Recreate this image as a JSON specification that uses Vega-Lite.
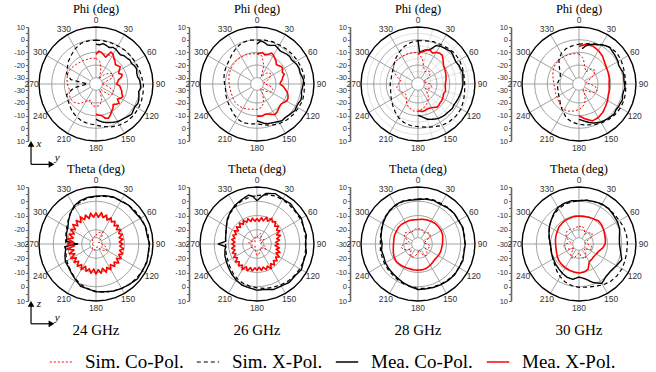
{
"$schema": "https://vega.github.io/schema/vega-lite/v6.json",
"background": "white",
"padding": {"left": 13, "top": 2, "right": 2, "bottom": 0},
"config": {"view": {"stroke": null}, "font": "Liberation Serif",
  "legend": {"orient": "none", "legendX": 21, "legendY": 323, "direction": "horizontal", "title": null, "symbolType": "stroke", "symbolSize": 500, "labelFont": "Liberation Serif", "labelFontSize": 19, "labelColor": "#000", "columnPadding": 10, "labelOffset": 12, "labelLimit": 0}},
"datasets": {
"phi": [
{"f":"24","a":0,"sc":-14.8,"sx":-0.4,"mc":-3.5,"mx":-11.6},
{"f":"24","a":5,"mc":-4,"mx":-8.9},
{"f":"24","a":10,"sc":-17,"sx":-0.4,"mc":-2.6,"mx":-9.8},
{"f":"24","a":15,"mc":-3.5,"mx":-11.2},
{"f":"24","a":20,"sc":-23.8,"sx":-0.4,"mc":-4.4,"mx":-12.5},
{"f":"24","a":25,"mc":-3.1,"mx":-7.1},
{"f":"24","a":30,"sc":-30.5,"sx":-0.4,"mc":-3.5,"mx":-8},
{"f":"24","a":35,"mc":-4.4,"mx":-10.3},
{"f":"24","a":40,"sc":-26,"sx":0.1,"mc":-4.9,"mx":-11.6},
{"f":"24","a":45,"mc":-3.5,"mx":-13.4},
{"f":"24","a":50,"sc":-21.5,"sx":0.1,"mc":-3.1,"mx":-12.5},
{"f":"24","a":55,"mc":-2.2,"mx":-11.6},
{"f":"24","a":60,"sc":-19.3,"sx":0.6,"mc":-2.6,"mx":-13.9},
{"f":"24","a":65,"mc":-1.3,"mx":-15.2},
{"f":"24","a":70,"sc":-21.5,"sx":1,"mc":-0.8,"mx":-13},
{"f":"24","a":75,"mc":-1.7,"mx":-14.3},
{"f":"24","a":80,"sc":-28.3,"sx":1.5,"mc":-1.7,"mx":-17},
{"f":"24","a":85,"mc":-0.4,"mx":-17.9},
{"f":"24","a":90,"sc":-30.5,"sx":2.4,"mc":0.1,"mx":-18.8},
{"f":"24","a":95,"mc":0.6,"mx":-16.1},
{"f":"24","a":100,"sc":-26,"sx":2.8,"mc":-0.8,"mx":-15.2},
{"f":"24","a":105,"mc":0.1,"mx":-13.9},
{"f":"24","a":110,"sc":-20.6,"sx":3.3,"mc":1,"mx":-13.4},
{"f":"24","a":115,"mc":1.5,"mx":-11.6},
{"f":"24","a":120,"sc":-19.3,"sx":3.7,"mc":0.6,"mx":-12.5},
{"f":"24","a":125,"mc":1,"mx":-14.3},
{"f":"24","a":130,"sc":-22.4,"sx":3.7,"mc":1.9,"mx":-11.2},
{"f":"24","a":135,"mc":1,"mx":-12.5},
{"f":"24","a":140,"sc":-29.6,"sx":3.3,"mc":0.1,"mx":-13.9},
{"f":"24","a":145,"mc":-0.4,"mx":-11.6},
{"f":"24","a":150,"sc":-28.3,"sx":2.4,"mc":-0.8,"mx":-10.3},
{"f":"24","a":155,"mc":-1.7,"mx":-8},
{"f":"24","a":160,"sc":-21.5,"sx":1,"mc":-2.6,"mx":-6.2},
{"f":"24","a":165,"mc":-3.5,"mx":-7.1},
{"f":"24","a":170,"sc":-17.9,"sx":-0.8,"mc":-4.4,"mx":-9.8},
{"f":"24","a":175,"mc":-5.8,"mx":-10.3},
{"f":"24","a":180,"sc":-17,"sx":-2.6,"mc":-7.1,"mx":-11.2},
{"f":"24","a":190,"sc":-17.9,"sx":-3.1},
{"f":"24","a":200,"sc":-21.5,"sx":-3.5},
{"f":"24","a":210,"sc":-19.3,"sx":-4.9},
{"f":"24","a":220,"sc":-14.8,"sx":-6.2},
{"f":"24","a":230,"sc":-12.5,"sx":-8},
{"f":"24","a":240,"sc":-11.6,"sx":-9.4},
{"f":"24","a":250,"sc":-12.5,"sx":-10.3},
{"f":"24","a":260,"sc":-13.4,"sx":-17},
{"f":"24","a":270,"sc":-12.5,"sx":-28.3},
{"f":"24","a":280,"sc":-11.6,"sx":-14.8},
{"f":"24","a":290,"sc":-11.2,"sx":-10.3},
{"f":"24","a":300,"sc":-11.6,"sx":-8.9},
{"f":"24","a":310,"sc":-12.5,"sx":-6.7},
{"f":"24","a":320,"sc":-13.4,"sx":-4.9},
{"f":"24","a":330,"sc":-13.9,"sx":-2.6},
{"f":"24","a":340,"sc":-14.3,"sx":-0.8},
{"f":"24","a":350,"sc":-14.3,"sx":-0.4},
{"f":"24","a":360,"sc":-14.8,"sx":-0.4},
{"f":"26","a":0,"sc":-11.2,"sx":-0.4,"mc":-3.5,"mx":-11.2},
{"f":"26","a":5,"mc":-0.8,"mx":-10.7},
{"f":"26","a":10,"sc":-12.5,"sx":0.1,"mc":-1.7,"mx":-9.8},
{"f":"26","a":15,"mc":-3.1,"mx":-11.2},
{"f":"26","a":20,"sc":-19.3,"sx":0.6,"mc":-2.6,"mx":-10.3},
{"f":"26","a":25,"mc":-1.3,"mx":-8},
{"f":"26","a":30,"sc":-28.3,"sx":0.6,"mc":-2.2,"mx":-8.9},
{"f":"26","a":35,"mc":-3.1,"mx":-10.3},
{"f":"26","a":40,"sc":-23.8,"sx":1,"mc":-2.6,"mx":-11.6},
{"f":"26","a":45,"mc":-1.7,"mx":-13.4},
{"f":"26","a":50,"sc":-21.5,"sx":1.5,"mc":-1.3,"mx":-12.5},
{"f":"26","a":55,"mc":-1.7,"mx":-11.2},
{"f":"26","a":60,"sc":-22.4,"sx":1.9,"mc":-0.8,"mx":-11.6},
{"f":"26","a":65,"mc":0.1,"mx":-13},
{"f":"26","a":70,"sc":-26,"sx":2.4,"mc":0.6,"mx":-12.1},
{"f":"26","a":75,"mc":0.1,"mx":-13.9},
{"f":"26","a":80,"sc":-29.6,"sx":2.8,"mc":1,"mx":-14.8},
{"f":"26","a":85,"mc":1.9,"mx":-16.1},
{"f":"26","a":90,"sc":-28.3,"sx":2.4,"mc":1.5,"mx":-17},
{"f":"26","a":95,"mc":1,"mx":-14.3},
{"f":"26","a":100,"sc":-23.8,"sx":2.8,"mc":0.6,"mx":-12.5},
{"f":"26","a":105,"mc":1.5,"mx":-10.3},
{"f":"26","a":110,"sc":-21.5,"sx":3.3,"mc":1.9,"mx":-8.9},
{"f":"26","a":115,"mc":1,"mx":-8},
{"f":"26","a":120,"sc":-22.4,"sx":2.8,"mc":1,"mx":-8},
{"f":"26","a":125,"mc":1.5,"mx":-9.4},
{"f":"26","a":130,"sc":-26,"sx":2.4,"mc":0.6,"mx":-10.3},
{"f":"26","a":135,"mc":0.1,"mx":-9.8},
{"f":"26","a":140,"sc":-30.5,"sx":1.9,"mc":-0.4,"mx":-8.9},
{"f":"26","a":145,"mc":0.1,"mx":-7.6},
{"f":"26","a":150,"sc":-26,"sx":1,"mc":-0.8,"mx":-7.1},
{"f":"26","a":155,"mc":-1.7,"mx":-8.5},
{"f":"26","a":160,"sc":-19.3,"sx":-0.4,"mc":-2.2,"mx":-9.8},
{"f":"26","a":165,"mc":-2.6,"mx":-10.3},
{"f":"26","a":170,"sc":-16.1,"sx":-2.2,"mc":-3.5,"mx":-9.4},
{"f":"26","a":175,"mc":-4.9,"mx":-9.4},
{"f":"26","a":180,"sc":-14.8,"sx":-3.5,"mc":-5.8,"mx":-9.8},
{"f":"26","a":190,"sc":-14.8,"sx":-3.1},
{"f":"26","a":200,"sc":-13.9,"sx":-2.6},
{"f":"26","a":210,"sc":-13,"sx":-3.5},
{"f":"26","a":220,"sc":-12.5,"sx":-5.3},
{"f":"26","a":230,"sc":-12.5,"sx":-7.1},
{"f":"26","a":240,"sc":-13,"sx":-8},
{"f":"26","a":250,"sc":-13.4,"sx":-8.9},
{"f":"26","a":260,"sc":-13.4,"sx":-9.8},
{"f":"26","a":270,"sc":-13,"sx":-9.4},
{"f":"26","a":280,"sc":-12.5,"sx":-8.5},
{"f":"26","a":290,"sc":-11.6,"sx":-7.6},
{"f":"26","a":300,"sc":-11.2,"sx":-7.1},
{"f":"26","a":310,"sc":-10.7,"sx":-6.2},
{"f":"26","a":320,"sc":-10.3,"sx":-4.4},
{"f":"26","a":330,"sc":-10.3,"sx":-2.2},
{"f":"26","a":340,"sc":-10.3,"sx":-0.4},
{"f":"26","a":350,"sc":-10.7,"sx":0.1},
{"f":"26","a":360,"sc":-11.2,"sx":-0.4},
{"f":"28","a":0,"sc":-10.3,"sx":-0.8,"mc":-0.8,"mx":-11.6},
{"f":"28","a":3,"mc":-9.8},
{"f":"28","a":5,"mc":-9.4,"mx":-9.8},
{"f":"28","a":10,"sc":-14.8,"sx":-0.4,"mc":-8,"mx":-8.9},
{"f":"28","a":15,"mc":-7.1,"mx":-7.1},
{"f":"28","a":20,"sc":-21.5,"sx":0.6,"mc":-5.8,"mx":-6.7},
{"f":"28","a":25,"mc":-1.7,"mx":-8},
{"f":"28","a":30,"sc":-23.8,"sx":1,"mc":-0.4,"mx":-6.2},
{"f":"28","a":35,"mc":0.1,"mx":-5.3},
{"f":"28","a":40,"sc":-21.5,"sx":1.9,"mc":0.6,"mx":-5.3},
{"f":"28","a":45,"mc":1.5,"mx":-7.1},
{"f":"28","a":50,"sc":-22.4,"sx":2.8,"mc":1,"mx":-8.9},
{"f":"28","a":55,"mc":0.1,"mx":-10.3},
{"f":"28","a":60,"sc":-26,"sx":2.8,"mc":-0.4,"mx":-10.7},
{"f":"28","a":65,"mc":0.6,"mx":-11.2},
{"f":"28","a":70,"sc":-30.5,"sx":2.4,"mc":0.6,"mx":-11.6},
{"f":"28","a":75,"mc":1.5,"mx":-12.1},
{"f":"28","a":80,"sc":-28.3,"sx":1.9,"mc":1,"mx":-12.5},
{"f":"28","a":85,"mc":0.6,"mx":-13},
{"f":"28","a":90,"sc":-25.1,"sx":1.9,"mc":0.6,"mx":-13.4},
{"f":"28","a":95,"mc":0.1,"mx":-13.4},
{"f":"28","a":100,"sc":-23.8,"sx":2.4,"mc":-0.4,"mx":-13},
{"f":"28","a":105,"mc":-0.8,"mx":-12.5},
{"f":"28","a":110,"sc":-25.1,"sx":3.3,"mc":-1.3,"mx":-13.4},
{"f":"28","a":115,"mc":-1.7,"mx":-13},
{"f":"28","a":120,"sc":-28.3,"sx":4.2,"mc":-2.2,"mx":-12.5},
{"f":"28","a":125,"mc":-1.7,"mx":-12.1},
{"f":"28","a":130,"sc":-26,"sx":4.2,"mc":-2.2,"mx":-12.1},
{"f":"28","a":135,"mc":-2.6,"mx":-11.6},
{"f":"28","a":140,"sc":-22.4,"sx":3.7,"mc":-2.6,"mx":-11.2},
{"f":"28","a":145,"mc":-3.1,"mx":-12.5},
{"f":"28","a":150,"sc":-19.3,"sx":2.8,"mc":-3.5,"mx":-13.4},
{"f":"28","a":155,"mc":-4.4,"mx":-13.9},
{"f":"28","a":160,"sc":-17,"sx":1,"mc":-5.3,"mx":-13.9},
{"f":"28","a":165,"mc":-6.2,"mx":-13.4},
{"f":"28","a":170,"sc":-14.8,"sx":-0.4,"mc":-8,"mx":-13},
{"f":"28","a":175,"mc":-9.4,"mx":-13.4},
{"f":"28","a":180,"sc":-13.4,"sx":-1.3,"mc":-10.3,"mx":-13.9},
{"f":"28","a":190,"sc":-13.4,"sx":-1.7},
{"f":"28","a":200,"sc":-14.8,"sx":-2.6},
{"f":"28","a":210,"sc":-17,"sx":-4.4},
{"f":"28","a":220,"sc":-20.6,"sx":-6.7},
{"f":"28","a":230,"sc":-22.4,"sx":-8.9},
{"f":"28","a":240,"sc":-21.5,"sx":-10.7},
{"f":"28","a":250,"sc":-19.3,"sx":-12.1},
{"f":"28","a":260,"sc":-17.9,"sx":-13},
{"f":"28","a":270,"sc":-19.3,"sx":-13},
{"f":"28","a":280,"sc":-21.5,"sx":-13.4},
{"f":"28","a":290,"sc":-17,"sx":-13},
{"f":"28","a":300,"sc":-12.5,"sx":-12.1},
{"f":"28","a":310,"sc":-10.3,"sx":-10.3},
{"f":"28","a":320,"sc":-9.8,"sx":-8},
{"f":"28","a":330,"sc":-9.8,"sx":-5.8},
{"f":"28","a":340,"sc":-9.8,"sx":-3.5},
{"f":"28","a":350,"sc":-9.8,"sx":-1.7},
{"f":"28","a":360,"sc":-10.3,"sx":-0.8},
{"f":"30","a":0,"sc":-11.2,"sx":-3.5,"mx":-5.3},
{"f":"30","a":5,"mc":-7.1},
{"f":"30","a":10,"sc":-14.8,"sx":-2.6,"mc":-4.4,"mx":-3.1},
{"f":"30","a":15,"mc":-2.6},
{"f":"30","a":20,"sc":-21.5,"sx":-1.3,"mc":-1.7,"mx":-3.1},
{"f":"30","a":25,"mc":-0.8},
{"f":"30","a":30,"sc":-23.8,"sx":1,"mc":0.6,"mx":-4.4},
{"f":"30","a":35,"mc":1.9},
{"f":"30","a":40,"sc":-19.3,"sx":2.8,"mc":2.8,"mx":-6.2},
{"f":"30","a":45,"mc":1.9},
{"f":"30","a":50,"sc":-18.4,"sx":3.7,"mc":1.5,"mx":-8.5},
{"f":"30","a":55,"mc":1},
{"f":"30","a":60,"sc":-21.5,"sx":3.3,"mc":0.6,"mx":-9.8},
{"f":"30","a":65,"mc":-0.4},
{"f":"30","a":70,"sc":-26.9,"sx":2.4,"mc":0.1,"mx":-10.3},
{"f":"30","a":75,"mc":1},
{"f":"30","a":80,"sc":-29.6,"sx":1.9,"mc":1,"mx":-10.7},
{"f":"30","a":85,"mc":0.6},
{"f":"30","a":90,"sc":-26,"sx":1.9,"mc":1,"mx":-11.2},
{"f":"30","a":95,"mc":1.5},
{"f":"30","a":100,"sc":-21.5,"sx":2.4,"mc":0.6,"mx":-10.7},
{"f":"30","a":105,"mc":0.6},
{"f":"30","a":110,"sc":-19.7,"sx":2.8,"mc":1.5,"mx":-10.3},
{"f":"30","a":115,"mc":1},
{"f":"30","a":120,"sc":-21.5,"sx":2.8,"mc":1,"mx":-8.9},
{"f":"30","a":125,"mc":0.6},
{"f":"30","a":130,"sc":-26,"sx":2.4,"mc":1.5,"mx":-7.6},
{"f":"30","a":135,"mc":1},
{"f":"30","a":140,"sc":-29.6,"sx":1.5,"mc":0.6,"mx":-5.8},
{"f":"30","a":145,"mc":0.1},
{"f":"30","a":150,"sc":-26,"sx":0.6,"mc":-0.4,"mx":-4.4},
{"f":"30","a":155,"mc":-1.3},
{"f":"30","a":160,"sc":-20.6,"sx":-0.8,"mc":-2.2,"mx":-4},
{"f":"30","a":165,"mc":-3.5},
{"f":"30","a":170,"sc":-17,"sx":-2.2,"mc":-4.9,"mx":-7.1},
{"f":"30","a":175,"mc":-6.2},
{"f":"30","a":180,"sc":-14.8,"sx":-3.1,"mc":-7.1,"mx":-9.8},
{"f":"30","a":190,"sc":-13.4,"sx":-4.4},
{"f":"30","a":200,"sc":-12.1,"sx":-6.2},
{"f":"30","a":210,"sc":-11.6,"sx":-9.8},
{"f":"30","a":220,"sc":-12.5,"sx":-12.5},
{"f":"30","a":230,"sc":-13.9,"sx":-15.2},
{"f":"30","a":240,"sc":-14.8,"sx":-16.6},
{"f":"30","a":250,"sc":-15.2,"sx":-17.5},
{"f":"30","a":260,"sc":-15.7,"sx":-17.9},
{"f":"30","a":270,"sc":-15.2,"sx":-17.9},
{"f":"30","a":280,"sc":-14.3,"sx":-18.8},
{"f":"30","a":290,"sc":-13,"sx":-19.3},
{"f":"30","a":300,"sc":-11.6,"sx":-17.9},
{"f":"30","a":310,"sc":-10.7,"sx":-14.8},
{"f":"30","a":320,"sc":-10.3,"sx":-10.3},
{"f":"30","a":330,"sc":-10.3,"sx":-7.1},
{"f":"30","a":340,"sc":-10.3,"sx":-5.3},
{"f":"30","a":350,"sc":-10.7,"sx":-4.4},
{"f":"30","a":360,"sc":-11.2,"sx":-3.5}
],
"theta": [
{"f":"24","a":0,"sc":-24,"sx":3.2,"mc":3.6,"mx":-8},
{"f":"24","a":5,"mx":-11.2},
{"f":"24","a":10,"sc":-22,"sx":4,"mc":4.4,"mx":-7.6},
{"f":"24","a":15,"mx":-10.8},
{"f":"24","a":20,"sc":-21.2,"sx":4.8,"mc":5.2,"mx":-8.4},
{"f":"24","a":25,"mx":-11.6},
{"f":"24","a":30,"sc":-20,"sx":5.2,"mc":4.8,"mx":-8.8},
{"f":"24","a":35,"mx":-11.2},
{"f":"24","a":40,"sc":-24,"sx":5.6,"mc":5.6,"mx":-9.2},
{"f":"24","a":45,"mx":-12},
{"f":"24","a":50,"sc":-26.8,"sx":6,"mc":5.2,"mx":-9.6},
{"f":"24","a":55,"mx":-12.4},
{"f":"24","a":60,"sc":-28,"sx":6.4,"mc":6,"mx":-10},
{"f":"24","a":65,"mx":-12.4},
{"f":"24","a":70,"sc":-26.8,"sx":6.8,"mc":6.8,"mx":-10.4},
{"f":"24","a":75,"mx":-13.2},
{"f":"24","a":80,"sc":-26,"sx":7.2,"mc":6.4,"mx":-10.8},
{"f":"24","a":85,"mx":-13.6},
{"f":"24","a":90,"sc":-26,"sx":7.2,"mc":7.6,"mx":-11.2},
{"f":"24","a":95,"mx":-13.2},
{"f":"24","a":100,"sc":-24,"sx":7.6,"mc":7.2,"mx":-10.4},
{"f":"24","a":105,"mx":-12.8},
{"f":"24","a":110,"sc":-22,"sx":7.6,"mc":8,"mx":-10},
{"f":"24","a":115,"mx":-12.4},
{"f":"24","a":120,"sc":-21.2,"sx":7.6,"mc":7.6,"mx":-9.6},
{"f":"24","a":125,"mx":-12.4},
{"f":"24","a":130,"sc":-22.8,"sx":7.2,"mc":8,"mx":-9.2},
{"f":"24","a":135,"mx":-12},
{"f":"24","a":140,"sc":-25.2,"sx":6.8,"mc":6.8,"mx":-9.6},
{"f":"24","a":145,"mx":-12.4},
{"f":"24","a":150,"sc":-26.8,"sx":6,"mc":6,"mx":-9.2},
{"f":"24","a":155,"mx":-12},
{"f":"24","a":160,"sc":-28,"sx":5.2,"mc":5.2,"mx":-8.8},
{"f":"24","a":165,"mx":-12.4},
{"f":"24","a":170,"sc":-26.8,"sx":4.4,"mc":4,"mx":-9.2},
{"f":"24","a":175,"mx":-12},
{"f":"24","a":180,"sc":-26.8,"sx":3.2,"mc":3.6,"mx":-8.8},
{"f":"24","a":185,"mx":-12.4},
{"f":"24","a":190,"sc":-26,"sx":2,"mc":2,"mx":-9.2},
{"f":"24","a":195,"mx":-12},
{"f":"24","a":200,"sc":-25.2,"sx":0.4,"mc":1.6,"mx":-9.6},
{"f":"24","a":205,"mx":-12.8},
{"f":"24","a":210,"sc":-25.2,"sx":-1.6,"mc":-1.2,"mx":-9.2},
{"f":"24","a":215,"mx":-12.4},
{"f":"24","a":220,"sc":-26,"sx":-3.6,"mc":-3.2,"mx":-9.6},
{"f":"24","a":225,"mx":-12.8},
{"f":"24","a":230,"sc":-26.8,"sx":-5.2,"mc":-4.8,"mx":-10},
{"f":"24","a":235,"mx":-13.2},
{"f":"24","a":240,"sc":-28,"sx":-6.4,"mc":-5.2,"mx":-9.6},
{"f":"24","a":245,"mx":-13.6},
{"f":"24","a":250,"sc":-28,"sx":-7.6,"mc":-6.8,"mx":-10},
{"f":"24","a":255,"mx":-14},
{"f":"24","a":260,"sc":-26.8,"sx":-8.4,"mc":-8.4,"mx":-9.2},
{"f":"24","a":265,"mc":-8,"mx":-14.8},
{"f":"24","a":270,"sc":-26.8,"sx":-8.8,"mc":-17.2,"mx":-10},
{"f":"24","a":275,"mc":-9.2,"mx":-14},
{"f":"24","a":280,"sc":-27.6,"sx":-8.4,"mc":-9.2,"mx":-9.6},
{"f":"24","a":285,"mx":-13.6},
{"f":"24","a":290,"sc":-28,"sx":-7.6,"mc":-8,"mx":-10},
{"f":"24","a":295,"mx":-13.2},
{"f":"24","a":300,"sc":-28,"sx":-6.4,"mc":-7.2,"mx":-9.6},
{"f":"24","a":305,"mx":-12.4},
{"f":"24","a":310,"sc":-26.8,"sx":-4.4,"mc":-4.8,"mx":-8.8},
{"f":"24","a":315,"mx":-12},
{"f":"24","a":320,"sc":-26,"sx":-2,"mc":-2,"mx":-8.4},
{"f":"24","a":325,"mx":-11.6},
{"f":"24","a":330,"sc":-26,"sx":0,"mc":0.8,"mx":-8},
{"f":"24","a":335,"mx":-11.2},
{"f":"24","a":340,"sc":-25.2,"sx":1.6,"mc":2.4,"mx":-8.4},
{"f":"24","a":345,"mx":-11.6},
{"f":"24","a":350,"sc":-24.4,"sx":2.8,"mc":3.2,"mx":-8},
{"f":"24","a":355,"mx":-11.2},
{"f":"24","a":360,"sc":-24,"sx":3.2,"mc":3.6,"mx":-8},
{"f":"26","a":0,"sc":-25.2,"sx":4,"mc":0.4,"mx":-12},
{"f":"26","a":5,"mc":3.2,"mx":-14},
{"f":"26","a":10,"sc":-23.6,"sx":5.2,"mc":6,"mx":-11.2},
{"f":"26","a":15,"mx":-13.2},
{"f":"26","a":20,"sc":-22,"sx":6,"mc":7.6,"mx":-10},
{"f":"26","a":25,"mx":-12.4},
{"f":"26","a":30,"sc":-24.4,"sx":6,"mc":6.4,"mx":-9.2},
{"f":"26","a":35,"mx":-11.2},
{"f":"26","a":40,"sc":-26.8,"sx":5.6,"mc":6.8,"mx":-9.6},
{"f":"26","a":45,"mx":-12.4},
{"f":"26","a":50,"sc":-25.2,"sx":5.2,"mc":5.6,"mx":-10.4},
{"f":"26","a":55,"mx":-13.2},
{"f":"26","a":60,"sc":-24,"sx":5.2,"mc":6,"mx":-11.6},
{"f":"26","a":65,"mx":-14.8},
{"f":"26","a":70,"sc":-26,"sx":4.8,"mc":4.8,"mx":-12.4},
{"f":"26","a":75,"mx":-15.6},
{"f":"26","a":80,"sc":-28,"sx":4.4,"mc":5.2,"mx":-14},
{"f":"26","a":85,"mx":-16.8},
{"f":"26","a":90,"sc":-26.8,"sx":4.4,"mc":4,"mx":-14.8},
{"f":"26","a":95,"mx":-17.2},
{"f":"26","a":100,"sc":-25.2,"sx":4.4,"mc":5.2,"mx":-14},
{"f":"26","a":105,"mx":-16},
{"f":"26","a":110,"sc":-23.6,"sx":4.8,"mc":4.8,"mx":-12.8},
{"f":"26","a":115,"mx":-15.2},
{"f":"26","a":120,"sc":-22.8,"sx":4.8,"mc":6,"mx":-12},
{"f":"26","a":125,"mx":-14},
{"f":"26","a":130,"sc":-25.2,"sx":4.4,"mc":4.8,"mx":-11.6},
{"f":"26","a":135,"mx":-13.6},
{"f":"26","a":140,"sc":-26.8,"sx":4,"mc":5.2,"mx":-10.8},
{"f":"26","a":145,"mx":-13.2},
{"f":"26","a":150,"sc":-25.2,"sx":3.2,"mc":4,"mx":-10},
{"f":"26","a":155,"mx":-12.8},
{"f":"26","a":160,"sc":-24,"sx":2.4,"mc":4,"mx":-10.8},
{"f":"26","a":165,"mx":-13.2},
{"f":"26","a":170,"sc":-22.8,"sx":1.6,"mc":2.4,"mx":-11.2},
{"f":"26","a":175,"mx":-13.6},
{"f":"26","a":180,"sc":-22,"sx":0.8,"mc":2.4,"mx":-11.6},
{"f":"26","a":185,"mx":-13.2},
{"f":"26","a":190,"sc":-24,"sx":0,"mc":1.2,"mx":-10.8},
{"f":"26","a":195,"mx":-12.8},
{"f":"26","a":200,"sc":-26,"sx":-0.8,"mc":0.8,"mx":-10},
{"f":"26","a":205,"mx":-12.4},
{"f":"26","a":210,"sc":-27.2,"sx":-2,"mc":-0.8,"mx":-9.2},
{"f":"26","a":215,"mx":-12},
{"f":"26","a":220,"sc":-28,"sx":-3.6,"mc":-2.4,"mx":-10},
{"f":"26","a":225,"mx":-12.4},
{"f":"26","a":230,"sc":-26.8,"sx":-5.2,"mc":-4,"mx":-10.4},
{"f":"26","a":235,"mx":-13.2},
{"f":"26","a":240,"sc":-25.2,"sx":-6.4,"mc":-5.2,"mx":-11.2},
{"f":"26","a":245,"mx":-13.6},
{"f":"26","a":250,"sc":-26,"sx":-7.2,"mc":-6,"mx":-11.6},
{"f":"26","a":255,"mx":-14},
{"f":"26","a":260,"sc":-26.8,"sx":-7.6,"mc":-7.2,"mx":-12},
{"f":"26","a":265,"mc":-8,"mx":-14.4},
{"f":"26","a":270,"sc":-26,"sx":-8,"mc":-2.8,"mx":-12.4},
{"f":"26","a":275,"mc":-8,"mx":-14.4},
{"f":"26","a":280,"sc":-24,"sx":-7.6,"mc":-7.6,"mx":-12},
{"f":"26","a":285,"mx":-14},
{"f":"26","a":290,"sc":-25.2,"sx":-6.8,"mc":-6.8,"mx":-12},
{"f":"26","a":295,"mx":-14},
{"f":"26","a":300,"sc":-26,"sx":-5.2,"mc":-5.2,"mx":-11.6},
{"f":"26","a":305,"mx":-14},
{"f":"26","a":310,"sc":-27.2,"sx":-3.2,"mc":-2.8,"mx":-11.2},
{"f":"26","a":315,"mx":-13.6},
{"f":"26","a":320,"sc":-28,"sx":-1.2,"mc":-0.8,"mx":-10.8},
{"f":"26","a":325,"mx":-13.2},
{"f":"26","a":330,"sc":-26.8,"sx":0.4,"mc":1.2,"mx":-10.8},
{"f":"26","a":335,"mx":-13.2},
{"f":"26","a":340,"sc":-25.2,"sx":2,"mc":2.8,"mx":-11.2},
{"f":"26","a":345,"mx":-13.6},
{"f":"26","a":350,"sc":-25.2,"sx":3.2,"mc":4.8,"mx":-11.6},
{"f":"26","a":355,"mc":3.6,"mx":-14},
{"f":"26","a":360,"sc":-25.2,"sx":4,"mc":0.4,"mx":-12},
{"f":"28","a":0,"sc":-19.6,"sx":1.6,"mc":1.2,"mx":-12.8},
{"f":"28","a":10,"sc":-18.8,"sx":2.4,"mc":2,"mx":-12.4},
{"f":"28","a":20,"sc":-20,"sx":2.8,"mc":2.4,"mx":-12},
{"f":"28","a":30,"sc":-21.2,"sx":2.8,"mc":2,"mx":-11.6},
{"f":"28","a":40,"sc":-19.6,"sx":3.2,"mc":2.8,"mx":-11.2},
{"f":"28","a":50,"sc":-18.8,"sx":3.2,"mc":3.2,"mx":-11.2},
{"f":"28","a":60,"sc":-20.4,"sx":3.2,"mc":2.8,"mx":-11.2},
{"f":"28","a":70,"sc":-24,"sx":3.2,"mc":3.6,"mx":-11.6},
{"f":"28","a":80,"sc":-26,"sx":3.2,"mc":2.8,"mx":-12.4},
{"f":"28","a":90,"sc":-22.8,"sx":2.8,"mc":3.2,"mx":-12.8},
{"f":"28","a":100,"sc":-21.2,"sx":2.8,"mc":2.8,"mx":-13.2},
{"f":"28","a":110,"sc":-22,"sx":3.2,"mc":3.6,"mx":-13.2},
{"f":"28","a":120,"sc":-24,"sx":3.2,"mc":3.2,"mx":-13.6},
{"f":"28","a":130,"sc":-22,"sx":3.2,"mc":3.6,"mx":-14},
{"f":"28","a":140,"sc":-20,"sx":2.8,"mc":3.2,"mx":-13.6},
{"f":"28","a":150,"sc":-20.4,"sx":2.4,"mc":2.8,"mx":-12.8},
{"f":"28","a":160,"sc":-22.8,"sx":2,"mc":2.4,"mx":-12},
{"f":"28","a":170,"sc":-26,"sx":1.6,"mc":2,"mx":-11.6},
{"f":"28","a":180,"sc":-24,"sx":1.2,"mc":2,"mx":-11.6},
{"f":"28","a":190,"sc":-22,"sx":0.4,"mc":0.4,"mx":-11.6},
{"f":"28","a":200,"sc":-20.4,"sx":-0.4,"mc":-0.8,"mx":-11.6},
{"f":"28","a":210,"sc":-19.6,"sx":-1.2,"mc":-2,"mx":-11.2},
{"f":"28","a":220,"sc":-21.2,"sx":-2,"mc":-2.8,"mx":-10.8},
{"f":"28","a":230,"sc":-24,"sx":-2.4,"mc":-3.2,"mx":-10.4},
{"f":"28","a":240,"sc":-22,"sx":-2.8,"mc":-3.6,"mx":-10.8},
{"f":"28","a":250,"sc":-18.8,"sx":-3.2,"mc":-4.4,"mx":-11.6},
{"f":"28","a":260,"sc":-18,"sx":-3.2,"mc":-4,"mx":-12.4},
{"f":"28","a":270,"sc":-20,"sx":-3.6,"mc":-4.8,"mx":-12.8},
{"f":"28","a":280,"sc":-24,"sx":-3.2,"mc":-3.6,"mx":-12.8},
{"f":"28","a":290,"sc":-22,"sx":-2.4,"mc":-2.8,"mx":-12.4},
{"f":"28","a":300,"sc":-18.8,"sx":-1.2,"mc":-1.6,"mx":-12.4},
{"f":"28","a":310,"sc":-18,"sx":0,"mc":-0.4,"mx":-12},
{"f":"28","a":320,"sc":-18.8,"sx":0.8,"mc":0.8,"mx":-12},
{"f":"28","a":330,"sc":-21.2,"sx":1.2,"mc":1.6,"mx":-12.4},
{"f":"28","a":340,"sc":-20,"sx":1.6,"mc":2,"mx":-12.4},
{"f":"28","a":350,"sc":-19.2,"sx":1.6,"mc":1.2,"mx":-12.8},
{"f":"28","a":360,"sc":-19.6,"sx":1.6,"mc":1.2,"mx":-12.8},
{"f":"30","a":0,"sc":-18,"sx":0.4,"mc":0.4,"mx":-10.4},
{"f":"30","a":10,"sc":-17.2,"sx":1.2,"mc":1.2,"mx":-10.4},
{"f":"30","a":20,"sc":-18.8,"sx":1.6,"mc":1.6,"mx":-10},
{"f":"30","a":30,"sc":-22,"sx":2,"mc":2.4,"mx":-9.6},
{"f":"30","a":40,"sc":-20,"sx":2.4,"mc":2.4,"mx":-8.8},
{"f":"30","a":50,"sc":-18,"sx":2.4,"mc":1.6,"mx":-9.2},
{"f":"30","a":60,"sc":-19.6,"sx":2.8,"mc":1.2,"mx":-10},
{"f":"30","a":70,"sc":-24,"sx":3.6,"mc":0.4,"mx":-10.8},
{"f":"30","a":80,"sc":-26,"sx":4,"mc":-1.2,"mx":-11.2},
{"f":"30","a":90,"sc":-24,"sx":4,"mc":-1.6,"mx":-11.6},
{"f":"30","a":100,"sc":-21.2,"sx":4,"mc":-0.4,"mx":-13.2},
{"f":"30","a":110,"sc":-20,"sx":4.4,"mc":2,"mx":-15.2},
{"f":"30","a":120,"sc":-22,"sx":4.8,"mc":0.4,"mx":-16},
{"f":"30","a":130,"sc":-25.2,"sx":4.8,"mc":-0.8,"mx":-16.4},
{"f":"30","a":140,"sc":-22.8,"sx":4.4,"mc":-0.4,"mx":-16},
{"f":"30","a":150,"sc":-20,"sx":3.2,"mc":2,"mx":-15.6},
{"f":"30","a":160,"sc":-18.8,"sx":1.6,"mc":-1.2,"mx":-11.2},
{"f":"30","a":170,"sc":-21.2,"sx":0.8,"mc":-5.2,"mx":-10},
{"f":"30","a":180,"sc":-24,"sx":0.4,"mc":-6.8,"mx":-9.6},
{"f":"30","a":190,"sc":-22,"sx":-0.4,"mc":-4.8,"mx":-10},
{"f":"30","a":200,"sc":-19.6,"sx":-1.6,"mc":-5.2,"mx":-10.4},
{"f":"30","a":210,"sc":-18.8,"sx":-3.6,"mc":-6.4,"mx":-10.8},
{"f":"30","a":220,"sc":-21.2,"sx":-5.6,"mc":-7.6,"mx":-11.2},
{"f":"30","a":230,"sc":-25.2,"sx":-7.6,"mc":-8.4,"mx":-11.6},
{"f":"30","a":240,"sc":-22.8,"sx":-8.8,"mc":-9.2,"mx":-12.4},
{"f":"30","a":250,"sc":-20,"sx":-9.6,"mc":-9.6,"mx":-13.2},
{"f":"30","a":260,"sc":-18.8,"sx":-10,"mc":-10,"mx":-13.6},
{"f":"30","a":270,"sc":-20.4,"sx":-9.6,"mc":-10,"mx":-13.6},
{"f":"30","a":280,"sc":-24,"sx":-8.8,"mc":-8.8,"mx":-13.2},
{"f":"30","a":290,"sc":-22,"sx":-7.6,"mc":-7.6,"mx":-12.8},
{"f":"30","a":300,"sc":-19.6,"sx":-6,"mc":-6,"mx":-12.4},
{"f":"30","a":310,"sc":-18,"sx":-4.4,"mc":-4.4,"mx":-11.6},
{"f":"30","a":320,"sc":-17.6,"sx":-2.8,"mc":-2.4,"mx":-11.2},
{"f":"30","a":330,"sc":-18,"sx":-1.6,"mc":-0.4,"mx":-10.8},
{"f":"30","a":340,"sc":-18.8,"sx":-0.4,"mc":0.4,"mx":-10.8},
{"f":"30","a":350,"sc":-18,"sx":0,"mc":0.8,"mx":-10.4},
{"f":"30","a":360,"sc":-18,"sx":0.4,"mc":0.4,"mx":-10.4}
]
},
"columns": 4,
"bounds": "flush",
"spacing": {"row": 46, "column": 13},
"concat": [
{"data": {"name": "phi"}, "transform": [{"filter": "datum.f == '24'"}], "width": 148, "height": 114,
 "encoding": {
  "x": {"field": "x", "type": "quantitative", "scale": {"domain": [-1.193, 1.404], "nice": false, "zero": false}, "axis": null},
  "y": {"field": "y", "type": "quantitative", "scale": {"domain": [-1, 1], "nice": false, "zero": false},
   "axis": {"title": null, "grid": false, "values": [1,0.8889,0.7778,0.6667,0.5556,0.4444,0.3333,0.2222,0.1111,-0.1111,-0.2222,-0.3333,-0.4444,-0.5556,-0.6667,-0.7778,-0.8889,-1],
    "labelExpr": "round(abs(datum.value)*45-35) % 10 == 0 ? round(abs(datum.value)*45-35) : ''",
    "labelOverlap": false, "labelFlush": false, "labelBound": false, "labelFont": "Liberation Sans", "labelFontSize": 7.5, "labelColor": "#333", "labelPadding": 1,
    "domainColor": "#666", "domainWidth": 1.6, "tickColor": "#666", "tickSize": 2.5, "tickWidth": 1}}},
 "layer": [
  {"transform": [{"filter": "datum.a % 10 == 0"}, {"calculate": "[0.111,0.333,0.556,0.778]", "as": "rr"}, {"flatten": ["rr"]}, {"calculate": "datum.rr*sin(datum.a*PI/180)", "as": "x"}, {"calculate": "datum.rr*cos(datum.a*PI/180)", "as": "y"}],
   "mark": {"type": "line", "color": "#999", "strokeWidth": 0.9}, "encoding": {"detail": {"field": "rr"}, "order": {"field": "a", "type": "quantitative"}}},
  {"transform": [{"filter": "datum.a % 30 == 0 && datum.a < 360"}, {"calculate": "sin(datum.a*PI/180)", "as": "ux"}, {"calculate": "cos(datum.a*PI/180)", "as": "uy"}, {"calculate": "0.111*datum.ux", "as": "x"}, {"calculate": "0.111*datum.uy", "as": "y"}],
   "mark": {"type": "rule", "color": "#999", "strokeWidth": 0.9}, "encoding": {"x2": {"field": "ux"}, "y2": {"field": "uy"}}},
  {"transform": [{"fold": ["sc","sx","mc","mx"], "as": ["s","v"]}, {"filter": "isValid(datum.v)"}, {"calculate": "max(0,(datum.v+35)/45)", "as": "r"}, {"calculate": "datum.r*sin(datum.a*PI/180)", "as": "x"}, {"calculate": "datum.r*cos(datum.a*PI/180)", "as": "y"}],
   "mark": {"type": "line", "strokeJoin": "round"},
   "encoding": {
    "color": {"field": "s", "type": "nominal", "scale": {"domain": ["sc","sx","mc","mx"], "range": ["#ff0000","#000000","#000000","#ff0000"]}, "legend": {"labelExpr": "datum.label=='sc'?'Sim. Co-Pol.':datum.label=='sx'?'Sim. X-Pol.':datum.label=='mc'?'Mea. Co-Pol.':'Mea. X-Pol.'"}},
    "strokeDash": {"field": "s", "type": "nominal", "scale": {"domain": ["sc","sx","mc","mx"], "range": [[2,2],[4,3],[1,0],[1,0]]}, "legend": {"labelExpr": "datum.label=='sc'?'Sim. Co-Pol.':datum.label=='sx'?'Sim. X-Pol.':datum.label=='mc'?'Mea. Co-Pol.':'Mea. X-Pol.'"}},
    "strokeWidth": {"field": "s", "type": "nominal", "scale": {"domain": ["sc","sx","mc","mx"], "range": [1,1.6,2.6,2.6]}, "legend": {"labelExpr": "datum.label=='sc'?'Sim. Co-Pol.':datum.label=='sx'?'Sim. X-Pol.':datum.label=='mc'?'Mea. Co-Pol.':'Mea. X-Pol.'"}},
    "order": {"field": "a", "type": "quantitative"}}},
  {"transform": [{"filter": "datum.a % 10 == 0"}, {"calculate": "sin(datum.a*PI/180)", "as": "x"}, {"calculate": "cos(datum.a*PI/180)", "as": "y"}],
   "mark": {"type": "line", "color": "#000", "strokeWidth": 1.4}, "encoding": {"order": {"field": "a", "type": "quantitative"}}},
  {"transform": [{"filter": "datum.a % 30 == 0 && datum.a < 360"}, {"calculate": "1.13*sin(datum.a*PI/180)", "as": "x"}, {"calculate": "1.12*cos(datum.a*PI/180)", "as": "y"}],
   "mark": {"type": "text", "font": "Liberation Sans", "fontSize": 8.5, "color": "#333", "baseline": "middle", "align": "center"}, "encoding": {"text": {"field": "a", "type": "quantitative", "format": "d"}}},
  {"transform": [{"filter": "datum.a == 0"}, {"calculate": "0", "as": "x"}, {"calculate": "1.32", "as": "y"}],
   "mark": {"type": "text", "font": "Liberation Serif", "fontSize": 12.5, "color": "#000", "baseline": "middle", "align": "center"}, "encoding": {"text": {"value": "Phi (deg)"}}},
  {"transform": [{"filter": "datum.a == 0"}, {"calculate": "-1.14", "as": "x"}, {"calculate": "-1.05", "as": "y"}, {"calculate": "-1.41", "as": "uy"}],
   "mark": {"type": "rule", "color": "#000", "strokeWidth": 1.2}, "encoding": {"y2": {"field": "uy"}}},
  {"transform": [{"filter": "datum.a == 0"}, {"calculate": "-1.14", "as": "x"}, {"calculate": "-0.8", "as": "ux"}, {"calculate": "-1.41", "as": "y"}],
   "mark": {"type": "rule", "color": "#000", "strokeWidth": 1.2}, "encoding": {"x2": {"field": "ux"}}},
  {"transform": [{"filter": "datum.a == 0"}, {"calculate": "-1.14", "as": "x"}, {"calculate": "-1.05", "as": "y"}],
   "mark": {"type": "point", "shape": "triangle-up", "filled": true, "color": "#000", "size": 45, "opacity": 1}},
  {"transform": [{"filter": "datum.a == 0"}, {"calculate": "-0.78", "as": "x"}, {"calculate": "-1.41", "as": "y"}],
   "mark": {"type": "point", "shape": "triangle-right", "filled": true, "color": "#000", "size": 45, "opacity": 1}},
  {"transform": [{"filter": "datum.a == 0"}, {"calculate": "-1.0", "as": "x"}, {"calculate": "-1.05", "as": "y"}],
   "mark": {"type": "text", "font": "Liberation Serif", "fontStyle": "italic", "fontSize": 11, "color": "#000", "baseline": "middle"}, "encoding": {"text": {"value": "x"}}},
  {"transform": [{"filter": "datum.a == 0"}, {"calculate": "-0.68", "as": "x"}, {"calculate": "-1.3", "as": "y"}],
   "mark": {"type": "text", "font": "Liberation Serif", "fontStyle": "italic", "fontSize": 11, "color": "#000", "baseline": "middle"}, "encoding": {"text": {"value": "y"}}}
 ]},
{"data": {"name": "phi"}, "transform": [{"filter": "datum.f == '26'"}], "width": 148, "height": 114,
 "encoding": {
  "x": {"field": "x", "type": "quantitative", "scale": {"domain": [-1.193, 1.404], "nice": false, "zero": false}, "axis": null},
  "y": {"field": "y", "type": "quantitative", "scale": {"domain": [-1, 1], "nice": false, "zero": false},
   "axis": {"title": null, "grid": false, "values": [1,0.8889,0.7778,0.6667,0.5556,0.4444,0.3333,0.2222,0.1111,-0.1111,-0.2222,-0.3333,-0.4444,-0.5556,-0.6667,-0.7778,-0.8889,-1],
    "labelExpr": "round(abs(datum.value)*45-35) % 10 == 0 ? round(abs(datum.value)*45-35) : ''",
    "labelOverlap": false, "labelFlush": false, "labelBound": false, "labelFont": "Liberation Sans", "labelFontSize": 7.5, "labelColor": "#333", "labelPadding": 1,
    "domainColor": "#666", "domainWidth": 1.6, "tickColor": "#666", "tickSize": 2.5, "tickWidth": 1}}},
 "layer": [
  {"transform": [{"filter": "datum.a % 10 == 0"}, {"calculate": "[0.111,0.333,0.556,0.778]", "as": "rr"}, {"flatten": ["rr"]}, {"calculate": "datum.rr*sin(datum.a*PI/180)", "as": "x"}, {"calculate": "datum.rr*cos(datum.a*PI/180)", "as": "y"}],
   "mark": {"type": "line", "color": "#999", "strokeWidth": 0.9}, "encoding": {"detail": {"field": "rr"}, "order": {"field": "a", "type": "quantitative"}}},
  {"transform": [{"filter": "datum.a % 30 == 0 && datum.a < 360"}, {"calculate": "sin(datum.a*PI/180)", "as": "ux"}, {"calculate": "cos(datum.a*PI/180)", "as": "uy"}, {"calculate": "0.111*datum.ux", "as": "x"}, {"calculate": "0.111*datum.uy", "as": "y"}],
   "mark": {"type": "rule", "color": "#999", "strokeWidth": 0.9}, "encoding": {"x2": {"field": "ux"}, "y2": {"field": "uy"}}},
  {"transform": [{"fold": ["sc","sx","mc","mx"], "as": ["s","v"]}, {"filter": "isValid(datum.v)"}, {"calculate": "max(0,(datum.v+35)/45)", "as": "r"}, {"calculate": "datum.r*sin(datum.a*PI/180)", "as": "x"}, {"calculate": "datum.r*cos(datum.a*PI/180)", "as": "y"}],
   "mark": {"type": "line", "strokeJoin": "round"},
   "encoding": {
    "color": {"field": "s", "type": "nominal", "scale": {"domain": ["sc","sx","mc","mx"], "range": ["#ff0000","#000000","#000000","#ff0000"]}, "legend": {"labelExpr": "datum.label=='sc'?'Sim. Co-Pol.':datum.label=='sx'?'Sim. X-Pol.':datum.label=='mc'?'Mea. Co-Pol.':'Mea. X-Pol.'"}},
    "strokeDash": {"field": "s", "type": "nominal", "scale": {"domain": ["sc","sx","mc","mx"], "range": [[2,2],[4,3],[1,0],[1,0]]}, "legend": {"labelExpr": "datum.label=='sc'?'Sim. Co-Pol.':datum.label=='sx'?'Sim. X-Pol.':datum.label=='mc'?'Mea. Co-Pol.':'Mea. X-Pol.'"}},
    "strokeWidth": {"field": "s", "type": "nominal", "scale": {"domain": ["sc","sx","mc","mx"], "range": [1,1.6,2.6,2.6]}, "legend": {"labelExpr": "datum.label=='sc'?'Sim. Co-Pol.':datum.label=='sx'?'Sim. X-Pol.':datum.label=='mc'?'Mea. Co-Pol.':'Mea. X-Pol.'"}},
    "order": {"field": "a", "type": "quantitative"}}},
  {"transform": [{"filter": "datum.a % 10 == 0"}, {"calculate": "sin(datum.a*PI/180)", "as": "x"}, {"calculate": "cos(datum.a*PI/180)", "as": "y"}],
   "mark": {"type": "line", "color": "#000", "strokeWidth": 1.4}, "encoding": {"order": {"field": "a", "type": "quantitative"}}},
  {"transform": [{"filter": "datum.a % 30 == 0 && datum.a < 360"}, {"calculate": "1.13*sin(datum.a*PI/180)", "as": "x"}, {"calculate": "1.12*cos(datum.a*PI/180)", "as": "y"}],
   "mark": {"type": "text", "font": "Liberation Sans", "fontSize": 8.5, "color": "#333", "baseline": "middle", "align": "center"}, "encoding": {"text": {"field": "a", "type": "quantitative", "format": "d"}}},
  {"transform": [{"filter": "datum.a == 0"}, {"calculate": "0", "as": "x"}, {"calculate": "1.32", "as": "y"}],
   "mark": {"type": "text", "font": "Liberation Serif", "fontSize": 12.5, "color": "#000", "baseline": "middle", "align": "center"}, "encoding": {"text": {"value": "Phi (deg)"}}}
 ]},
{"data": {"name": "phi"}, "transform": [{"filter": "datum.f == '28'"}], "width": 148, "height": 114,
 "encoding": {
  "x": {"field": "x", "type": "quantitative", "scale": {"domain": [-1.193, 1.404], "nice": false, "zero": false}, "axis": null},
  "y": {"field": "y", "type": "quantitative", "scale": {"domain": [-1, 1], "nice": false, "zero": false},
   "axis": {"title": null, "grid": false, "values": [1,0.8889,0.7778,0.6667,0.5556,0.4444,0.3333,0.2222,0.1111,-0.1111,-0.2222,-0.3333,-0.4444,-0.5556,-0.6667,-0.7778,-0.8889,-1],
    "labelExpr": "round(abs(datum.value)*45-35) % 10 == 0 ? round(abs(datum.value)*45-35) : ''",
    "labelOverlap": false, "labelFlush": false, "labelBound": false, "labelFont": "Liberation Sans", "labelFontSize": 7.5, "labelColor": "#333", "labelPadding": 1,
    "domainColor": "#666", "domainWidth": 1.6, "tickColor": "#666", "tickSize": 2.5, "tickWidth": 1}}},
 "layer": [
  {"transform": [{"filter": "datum.a % 10 == 0"}, {"calculate": "[0.222,0.444,0.667,0.889]", "as": "rr"}, {"flatten": ["rr"]}, {"calculate": "datum.rr*sin(datum.a*PI/180)", "as": "x"}, {"calculate": "datum.rr*cos(datum.a*PI/180)", "as": "y"}],
   "mark": {"type": "line", "color": "#d4d4d4", "strokeWidth": 0.7}, "encoding": {"detail": {"field": "rr"}, "order": {"field": "a", "type": "quantitative"}}},
  {"transform": [{"filter": "datum.a % 30 == 15"}, {"calculate": "sin(datum.a*PI/180)", "as": "ux"}, {"calculate": "cos(datum.a*PI/180)", "as": "uy"}, {"calculate": "0.111*datum.ux", "as": "x"}, {"calculate": "0.111*datum.uy", "as": "y"}],
   "mark": {"type": "rule", "color": "#d4d4d4", "strokeWidth": 0.7}, "encoding": {"x2": {"field": "ux"}, "y2": {"field": "uy"}}},
  {"transform": [{"filter": "datum.a % 10 == 0"}, {"calculate": "[0.111,0.333,0.556,0.778]", "as": "rr"}, {"flatten": ["rr"]}, {"calculate": "datum.rr*sin(datum.a*PI/180)", "as": "x"}, {"calculate": "datum.rr*cos(datum.a*PI/180)", "as": "y"}],
   "mark": {"type": "line", "color": "#999", "strokeWidth": 0.9}, "encoding": {"detail": {"field": "rr"}, "order": {"field": "a", "type": "quantitative"}}},
  {"transform": [{"filter": "datum.a % 30 == 0 && datum.a < 360"}, {"calculate": "sin(datum.a*PI/180)", "as": "ux"}, {"calculate": "cos(datum.a*PI/180)", "as": "uy"}, {"calculate": "0.111*datum.ux", "as": "x"}, {"calculate": "0.111*datum.uy", "as": "y"}],
   "mark": {"type": "rule", "color": "#999", "strokeWidth": 0.9}, "encoding": {"x2": {"field": "ux"}, "y2": {"field": "uy"}}},
  {"transform": [{"fold": ["sc","sx","mc","mx"], "as": ["s","v"]}, {"filter": "isValid(datum.v)"}, {"calculate": "max(0,(datum.v+35)/45)", "as": "r"}, {"calculate": "datum.r*sin(datum.a*PI/180)", "as": "x"}, {"calculate": "datum.r*cos(datum.a*PI/180)", "as": "y"}],
   "mark": {"type": "line", "strokeJoin": "round"},
   "encoding": {
    "color": {"field": "s", "type": "nominal", "scale": {"domain": ["sc","sx","mc","mx"], "range": ["#ff0000","#000000","#000000","#ff0000"]}, "legend": {"labelExpr": "datum.label=='sc'?'Sim. Co-Pol.':datum.label=='sx'?'Sim. X-Pol.':datum.label=='mc'?'Mea. Co-Pol.':'Mea. X-Pol.'"}},
    "strokeDash": {"field": "s", "type": "nominal", "scale": {"domain": ["sc","sx","mc","mx"], "range": [[2,2],[4,3],[1,0],[1,0]]}, "legend": {"labelExpr": "datum.label=='sc'?'Sim. Co-Pol.':datum.label=='sx'?'Sim. X-Pol.':datum.label=='mc'?'Mea. Co-Pol.':'Mea. X-Pol.'"}},
    "strokeWidth": {"field": "s", "type": "nominal", "scale": {"domain": ["sc","sx","mc","mx"], "range": [1,1.6,2.6,2.6]}, "legend": {"labelExpr": "datum.label=='sc'?'Sim. Co-Pol.':datum.label=='sx'?'Sim. X-Pol.':datum.label=='mc'?'Mea. Co-Pol.':'Mea. X-Pol.'"}},
    "order": {"field": "a", "type": "quantitative"}}},
  {"transform": [{"filter": "datum.a % 10 == 0"}, {"calculate": "sin(datum.a*PI/180)", "as": "x"}, {"calculate": "cos(datum.a*PI/180)", "as": "y"}],
   "mark": {"type": "line", "color": "#000", "strokeWidth": 1.4}, "encoding": {"order": {"field": "a", "type": "quantitative"}}},
  {"transform": [{"filter": "datum.a % 30 == 0 && datum.a < 360"}, {"calculate": "1.13*sin(datum.a*PI/180)", "as": "x"}, {"calculate": "1.12*cos(datum.a*PI/180)", "as": "y"}],
   "mark": {"type": "text", "font": "Liberation Sans", "fontSize": 8.5, "color": "#333", "baseline": "middle", "align": "center"}, "encoding": {"text": {"field": "a", "type": "quantitative", "format": "d"}}},
  {"transform": [{"filter": "datum.a == 0"}, {"calculate": "0", "as": "x"}, {"calculate": "1.32", "as": "y"}],
   "mark": {"type": "text", "font": "Liberation Serif", "fontSize": 12.5, "color": "#000", "baseline": "middle", "align": "center"}, "encoding": {"text": {"value": "Phi (deg)"}}}
 ]},
{"data": {"name": "phi"}, "transform": [{"filter": "datum.f == '30'"}], "width": 148, "height": 114,
 "encoding": {
  "x": {"field": "x", "type": "quantitative", "scale": {"domain": [-1.193, 1.404], "nice": false, "zero": false}, "axis": null},
  "y": {"field": "y", "type": "quantitative", "scale": {"domain": [-1, 1], "nice": false, "zero": false},
   "axis": {"title": null, "grid": false, "values": [1,0.8889,0.7778,0.6667,0.5556,0.4444,0.3333,0.2222,0.1111,-0.1111,-0.2222,-0.3333,-0.4444,-0.5556,-0.6667,-0.7778,-0.8889,-1],
    "labelExpr": "round(abs(datum.value)*45-35) % 10 == 0 ? round(abs(datum.value)*45-35) : ''",
    "labelOverlap": false, "labelFlush": false, "labelBound": false, "labelFont": "Liberation Sans", "labelFontSize": 7.5, "labelColor": "#333", "labelPadding": 1,
    "domainColor": "#666", "domainWidth": 1.6, "tickColor": "#666", "tickSize": 2.5, "tickWidth": 1}}},
 "layer": [
  {"transform": [{"filter": "datum.a % 10 == 0"}, {"calculate": "[0.111,0.333,0.556,0.778]", "as": "rr"}, {"flatten": ["rr"]}, {"calculate": "datum.rr*sin(datum.a*PI/180)", "as": "x"}, {"calculate": "datum.rr*cos(datum.a*PI/180)", "as": "y"}],
   "mark": {"type": "line", "color": "#999", "strokeWidth": 0.9}, "encoding": {"detail": {"field": "rr"}, "order": {"field": "a", "type": "quantitative"}}},
  {"transform": [{"filter": "datum.a % 30 == 0 && datum.a < 360"}, {"calculate": "sin(datum.a*PI/180)", "as": "ux"}, {"calculate": "cos(datum.a*PI/180)", "as": "uy"}, {"calculate": "0.111*datum.ux", "as": "x"}, {"calculate": "0.111*datum.uy", "as": "y"}],
   "mark": {"type": "rule", "color": "#999", "strokeWidth": 0.9}, "encoding": {"x2": {"field": "ux"}, "y2": {"field": "uy"}}},
  {"transform": [{"fold": ["sc","sx","mc","mx"], "as": ["s","v"]}, {"filter": "isValid(datum.v)"}, {"calculate": "max(0,(datum.v+35)/45)", "as": "r"}, {"calculate": "datum.r*sin(datum.a*PI/180)", "as": "x"}, {"calculate": "datum.r*cos(datum.a*PI/180)", "as": "y"}],
   "mark": {"type": "line", "strokeJoin": "round"},
   "encoding": {
    "color": {"field": "s", "type": "nominal", "scale": {"domain": ["sc","sx","mc","mx"], "range": ["#ff0000","#000000","#000000","#ff0000"]}, "legend": {"labelExpr": "datum.label=='sc'?'Sim. Co-Pol.':datum.label=='sx'?'Sim. X-Pol.':datum.label=='mc'?'Mea. Co-Pol.':'Mea. X-Pol.'"}},
    "strokeDash": {"field": "s", "type": "nominal", "scale": {"domain": ["sc","sx","mc","mx"], "range": [[2,2],[4,3],[1,0],[1,0]]}, "legend": {"labelExpr": "datum.label=='sc'?'Sim. Co-Pol.':datum.label=='sx'?'Sim. X-Pol.':datum.label=='mc'?'Mea. Co-Pol.':'Mea. X-Pol.'"}},
    "strokeWidth": {"field": "s", "type": "nominal", "scale": {"domain": ["sc","sx","mc","mx"], "range": [1,1.6,2.6,2.6]}, "legend": {"labelExpr": "datum.label=='sc'?'Sim. Co-Pol.':datum.label=='sx'?'Sim. X-Pol.':datum.label=='mc'?'Mea. Co-Pol.':'Mea. X-Pol.'"}},
    "order": {"field": "a", "type": "quantitative"}}},
  {"transform": [{"filter": "datum.a % 10 == 0"}, {"calculate": "sin(datum.a*PI/180)", "as": "x"}, {"calculate": "cos(datum.a*PI/180)", "as": "y"}],
   "mark": {"type": "line", "color": "#000", "strokeWidth": 1.4}, "encoding": {"order": {"field": "a", "type": "quantitative"}}},
  {"transform": [{"filter": "datum.a % 30 == 0 && datum.a < 360"}, {"calculate": "1.13*sin(datum.a*PI/180)", "as": "x"}, {"calculate": "1.12*cos(datum.a*PI/180)", "as": "y"}],
   "mark": {"type": "text", "font": "Liberation Sans", "fontSize": 8.5, "color": "#333", "baseline": "middle", "align": "center"}, "encoding": {"text": {"field": "a", "type": "quantitative", "format": "d"}}},
  {"transform": [{"filter": "datum.a == 0"}, {"calculate": "0", "as": "x"}, {"calculate": "1.32", "as": "y"}],
   "mark": {"type": "text", "font": "Liberation Serif", "fontSize": 12.5, "color": "#000", "baseline": "middle", "align": "center"}, "encoding": {"text": {"value": "Phi (deg)"}}}
 ]},
{"data": {"name": "theta"}, "transform": [{"filter": "datum.f == '24'"}], "width": 148, "height": 114,
 "encoding": {
  "x": {"field": "x", "type": "quantitative", "scale": {"domain": [-1.193, 1.404], "nice": false, "zero": false}, "axis": null},
  "y": {"field": "y", "type": "quantitative", "scale": {"domain": [-1, 1], "nice": false, "zero": false},
   "axis": {"title": null, "grid": false, "values": [1,0.875,0.75,0.625,0.5,0.375,0.25,0.125,0,-0.125,-0.25,-0.375,-0.5,-0.625,-0.75,-0.875,-1],
    "labelExpr": "round(abs(datum.value)*40-30) % 10 == 0 ? round(abs(datum.value)*40-30) : ''",
    "labelOverlap": false, "labelFlush": false, "labelBound": false, "labelFont": "Liberation Sans", "labelFontSize": 7.5, "labelColor": "#333", "labelPadding": 1,
    "domainColor": "#666", "domainWidth": 1.6, "tickColor": "#666", "tickSize": 2.5, "tickWidth": 1}}},
 "layer": [
  {"transform": [{"filter": "datum.a % 10 == 0"}, {"calculate": "[0.11,0.25,0.5,0.75]", "as": "rr"}, {"flatten": ["rr"]}, {"calculate": "datum.rr*sin(datum.a*PI/180)", "as": "x"}, {"calculate": "datum.rr*cos(datum.a*PI/180)", "as": "y"}],
   "mark": {"type": "line", "color": "#999", "strokeWidth": 0.9}, "encoding": {"detail": {"field": "rr"}, "order": {"field": "a", "type": "quantitative"}}},
  {"transform": [{"filter": "datum.a % 30 == 0 && datum.a < 360"}, {"calculate": "sin(datum.a*PI/180)", "as": "ux"}, {"calculate": "cos(datum.a*PI/180)", "as": "uy"}, {"calculate": "0.11*datum.ux", "as": "x"}, {"calculate": "0.11*datum.uy", "as": "y"}],
   "mark": {"type": "rule", "color": "#999", "strokeWidth": 0.9}, "encoding": {"x2": {"field": "ux"}, "y2": {"field": "uy"}}},
  {"transform": [{"fold": ["sc","sx","mc","mx"], "as": ["s","v"]}, {"filter": "isValid(datum.v)"}, {"calculate": "max(0,(datum.v+30)/40)", "as": "r"}, {"calculate": "datum.r*sin(datum.a*PI/180)", "as": "x"}, {"calculate": "datum.r*cos(datum.a*PI/180)", "as": "y"}],
   "mark": {"type": "line", "strokeJoin": "round"},
   "encoding": {
    "color": {"field": "s", "type": "nominal", "scale": {"domain": ["sc","sx","mc","mx"], "range": ["#ff0000","#000000","#000000","#ff0000"]}, "legend": {"labelExpr": "datum.label=='sc'?'Sim. Co-Pol.':datum.label=='sx'?'Sim. X-Pol.':datum.label=='mc'?'Mea. Co-Pol.':'Mea. X-Pol.'"}},
    "strokeDash": {"field": "s", "type": "nominal", "scale": {"domain": ["sc","sx","mc","mx"], "range": [[2,2],[4,3],[1,0],[1,0]]}, "legend": {"labelExpr": "datum.label=='sc'?'Sim. Co-Pol.':datum.label=='sx'?'Sim. X-Pol.':datum.label=='mc'?'Mea. Co-Pol.':'Mea. X-Pol.'"}},
    "strokeWidth": {"field": "s", "type": "nominal", "scale": {"domain": ["sc","sx","mc","mx"], "range": [1,1.6,2.6,2.6]}, "legend": {"labelExpr": "datum.label=='sc'?'Sim. Co-Pol.':datum.label=='sx'?'Sim. X-Pol.':datum.label=='mc'?'Mea. Co-Pol.':'Mea. X-Pol.'"}},
    "order": {"field": "a", "type": "quantitative"}}},
  {"transform": [{"filter": "datum.a % 10 == 0"}, {"calculate": "sin(datum.a*PI/180)", "as": "x"}, {"calculate": "cos(datum.a*PI/180)", "as": "y"}],
   "mark": {"type": "line", "color": "#000", "strokeWidth": 1.4}, "encoding": {"order": {"field": "a", "type": "quantitative"}}},
  {"transform": [{"filter": "datum.a % 30 == 0 && datum.a < 360"}, {"calculate": "1.13*sin(datum.a*PI/180)", "as": "x"}, {"calculate": "1.12*cos(datum.a*PI/180)", "as": "y"}],
   "mark": {"type": "text", "font": "Liberation Sans", "fontSize": 8.5, "color": "#333", "baseline": "middle", "align": "center"}, "encoding": {"text": {"field": "a", "type": "quantitative", "format": "d"}}},
  {"transform": [{"filter": "datum.a == 0"}, {"calculate": "0", "as": "x"}, {"calculate": "1.32", "as": "y"}],
   "mark": {"type": "text", "font": "Liberation Serif", "fontSize": 12.5, "color": "#000", "baseline": "middle", "align": "center"}, "encoding": {"text": {"value": "Theta (deg)"}}},
  {"transform": [{"filter": "datum.a == 0"}, {"calculate": "datum.f + ' GHz'", "as": "lab"}, {"calculate": "0", "as": "x"}, {"calculate": "-1.5", "as": "y"}],
   "mark": {"type": "text", "font": "Liberation Serif", "fontSize": 15, "color": "#000", "baseline": "middle", "align": "center"}, "encoding": {"text": {"field": "lab"}}},
  {"transform": [{"filter": "datum.a == 0"}, {"calculate": "-1.14", "as": "x"}, {"calculate": "-1.05", "as": "y"}, {"calculate": "-1.4", "as": "uy"}],
   "mark": {"type": "rule", "color": "#000", "strokeWidth": 1.2}, "encoding": {"y2": {"field": "uy"}}},
  {"transform": [{"filter": "datum.a == 0"}, {"calculate": "-1.14", "as": "x"}, {"calculate": "-0.8", "as": "ux"}, {"calculate": "-1.4", "as": "y"}],
   "mark": {"type": "rule", "color": "#000", "strokeWidth": 1.2}, "encoding": {"x2": {"field": "ux"}}},
  {"transform": [{"filter": "datum.a == 0"}, {"calculate": "-1.14", "as": "x"}, {"calculate": "-1.05", "as": "y"}],
   "mark": {"type": "point", "shape": "triangle-up", "filled": true, "color": "#000", "size": 45, "opacity": 1}},
  {"transform": [{"filter": "datum.a == 0"}, {"calculate": "-0.78", "as": "x"}, {"calculate": "-1.4", "as": "y"}],
   "mark": {"type": "point", "shape": "triangle-right", "filled": true, "color": "#000", "size": 45, "opacity": 1}},
  {"transform": [{"filter": "datum.a == 0"}, {"calculate": "-1.0", "as": "x"}, {"calculate": "-1.05", "as": "y"}],
   "mark": {"type": "text", "font": "Liberation Serif", "fontStyle": "italic", "fontSize": 11, "color": "#000", "baseline": "middle"}, "encoding": {"text": {"value": "z"}}},
  {"transform": [{"filter": "datum.a == 0"}, {"calculate": "-0.68", "as": "x"}, {"calculate": "-1.29", "as": "y"}],
   "mark": {"type": "text", "font": "Liberation Serif", "fontStyle": "italic", "fontSize": 11, "color": "#000", "baseline": "middle"}, "encoding": {"text": {"value": "y"}}}
 ]},
{"data": {"name": "theta"}, "transform": [{"filter": "datum.f == '26'"}], "width": 148, "height": 114,
 "encoding": {
  "x": {"field": "x", "type": "quantitative", "scale": {"domain": [-1.193, 1.404], "nice": false, "zero": false}, "axis": null},
  "y": {"field": "y", "type": "quantitative", "scale": {"domain": [-1, 1], "nice": false, "zero": false},
   "axis": {"title": null, "grid": false, "values": [1,0.875,0.75,0.625,0.5,0.375,0.25,0.125,0,-0.125,-0.25,-0.375,-0.5,-0.625,-0.75,-0.875,-1],
    "labelExpr": "round(abs(datum.value)*40-30) % 10 == 0 ? round(abs(datum.value)*40-30) : ''",
    "labelOverlap": false, "labelFlush": false, "labelBound": false, "labelFont": "Liberation Sans", "labelFontSize": 7.5, "labelColor": "#333", "labelPadding": 1,
    "domainColor": "#666", "domainWidth": 1.6, "tickColor": "#666", "tickSize": 2.5, "tickWidth": 1}}},
 "layer": [
  {"transform": [{"filter": "datum.a % 10 == 0"}, {"calculate": "[0.11,0.25,0.5,0.75]", "as": "rr"}, {"flatten": ["rr"]}, {"calculate": "datum.rr*sin(datum.a*PI/180)", "as": "x"}, {"calculate": "datum.rr*cos(datum.a*PI/180)", "as": "y"}],
   "mark": {"type": "line", "color": "#999", "strokeWidth": 0.9}, "encoding": {"detail": {"field": "rr"}, "order": {"field": "a", "type": "quantitative"}}},
  {"transform": [{"filter": "datum.a % 30 == 0 && datum.a < 360"}, {"calculate": "sin(datum.a*PI/180)", "as": "ux"}, {"calculate": "cos(datum.a*PI/180)", "as": "uy"}, {"calculate": "0.11*datum.ux", "as": "x"}, {"calculate": "0.11*datum.uy", "as": "y"}],
   "mark": {"type": "rule", "color": "#999", "strokeWidth": 0.9}, "encoding": {"x2": {"field": "ux"}, "y2": {"field": "uy"}}},
  {"transform": [{"fold": ["sc","sx","mc","mx"], "as": ["s","v"]}, {"filter": "isValid(datum.v)"}, {"calculate": "max(0,(datum.v+30)/40)", "as": "r"}, {"calculate": "datum.r*sin(datum.a*PI/180)", "as": "x"}, {"calculate": "datum.r*cos(datum.a*PI/180)", "as": "y"}],
   "mark": {"type": "line", "strokeJoin": "round"},
   "encoding": {
    "color": {"field": "s", "type": "nominal", "scale": {"domain": ["sc","sx","mc","mx"], "range": ["#ff0000","#000000","#000000","#ff0000"]}, "legend": {"labelExpr": "datum.label=='sc'?'Sim. Co-Pol.':datum.label=='sx'?'Sim. X-Pol.':datum.label=='mc'?'Mea. Co-Pol.':'Mea. X-Pol.'"}},
    "strokeDash": {"field": "s", "type": "nominal", "scale": {"domain": ["sc","sx","mc","mx"], "range": [[2,2],[4,3],[1,0],[1,0]]}, "legend": {"labelExpr": "datum.label=='sc'?'Sim. Co-Pol.':datum.label=='sx'?'Sim. X-Pol.':datum.label=='mc'?'Mea. Co-Pol.':'Mea. X-Pol.'"}},
    "strokeWidth": {"field": "s", "type": "nominal", "scale": {"domain": ["sc","sx","mc","mx"], "range": [1,1.6,2.6,2.6]}, "legend": {"labelExpr": "datum.label=='sc'?'Sim. Co-Pol.':datum.label=='sx'?'Sim. X-Pol.':datum.label=='mc'?'Mea. Co-Pol.':'Mea. X-Pol.'"}},
    "order": {"field": "a", "type": "quantitative"}}},
  {"transform": [{"filter": "datum.a % 10 == 0"}, {"calculate": "sin(datum.a*PI/180)", "as": "x"}, {"calculate": "cos(datum.a*PI/180)", "as": "y"}],
   "mark": {"type": "line", "color": "#000", "strokeWidth": 1.4}, "encoding": {"order": {"field": "a", "type": "quantitative"}}},
  {"transform": [{"filter": "datum.a % 30 == 0 && datum.a < 360"}, {"calculate": "1.13*sin(datum.a*PI/180)", "as": "x"}, {"calculate": "1.12*cos(datum.a*PI/180)", "as": "y"}],
   "mark": {"type": "text", "font": "Liberation Sans", "fontSize": 8.5, "color": "#333", "baseline": "middle", "align": "center"}, "encoding": {"text": {"field": "a", "type": "quantitative", "format": "d"}}},
  {"transform": [{"filter": "datum.a == 0"}, {"calculate": "0", "as": "x"}, {"calculate": "1.32", "as": "y"}],
   "mark": {"type": "text", "font": "Liberation Serif", "fontSize": 12.5, "color": "#000", "baseline": "middle", "align": "center"}, "encoding": {"text": {"value": "Theta (deg)"}}},
  {"transform": [{"filter": "datum.a == 0"}, {"calculate": "datum.f + ' GHz'", "as": "lab"}, {"calculate": "0", "as": "x"}, {"calculate": "-1.5", "as": "y"}],
   "mark": {"type": "text", "font": "Liberation Serif", "fontSize": 15, "color": "#000", "baseline": "middle", "align": "center"}, "encoding": {"text": {"field": "lab"}}}
 ]},
{"data": {"name": "theta"}, "transform": [{"filter": "datum.f == '28'"}], "width": 148, "height": 114,
 "encoding": {
  "x": {"field": "x", "type": "quantitative", "scale": {"domain": [-1.193, 1.404], "nice": false, "zero": false}, "axis": null},
  "y": {"field": "y", "type": "quantitative", "scale": {"domain": [-1, 1], "nice": false, "zero": false},
   "axis": {"title": null, "grid": false, "values": [1,0.875,0.75,0.625,0.5,0.375,0.25,0.125,0,-0.125,-0.25,-0.375,-0.5,-0.625,-0.75,-0.875,-1],
    "labelExpr": "round(abs(datum.value)*40-30) % 10 == 0 ? round(abs(datum.value)*40-30) : ''",
    "labelOverlap": false, "labelFlush": false, "labelBound": false, "labelFont": "Liberation Sans", "labelFontSize": 7.5, "labelColor": "#333", "labelPadding": 1,
    "domainColor": "#666", "domainWidth": 1.6, "tickColor": "#666", "tickSize": 2.5, "tickWidth": 1}}},
 "layer": [
  {"transform": [{"filter": "datum.a % 10 == 0"}, {"calculate": "[0.11,0.25,0.5,0.75]", "as": "rr"}, {"flatten": ["rr"]}, {"calculate": "datum.rr*sin(datum.a*PI/180)", "as": "x"}, {"calculate": "datum.rr*cos(datum.a*PI/180)", "as": "y"}],
   "mark": {"type": "line", "color": "#999", "strokeWidth": 0.9}, "encoding": {"detail": {"field": "rr"}, "order": {"field": "a", "type": "quantitative"}}},
  {"transform": [{"filter": "datum.a % 30 == 0 && datum.a < 360"}, {"calculate": "sin(datum.a*PI/180)", "as": "ux"}, {"calculate": "cos(datum.a*PI/180)", "as": "uy"}, {"calculate": "0.11*datum.ux", "as": "x"}, {"calculate": "0.11*datum.uy", "as": "y"}],
   "mark": {"type": "rule", "color": "#999", "strokeWidth": 0.9}, "encoding": {"x2": {"field": "ux"}, "y2": {"field": "uy"}}},
  {"transform": [{"fold": ["sc","sx","mc","mx"], "as": ["s","v"]}, {"filter": "isValid(datum.v)"}, {"calculate": "max(0,(datum.v+30)/40)", "as": "r"}, {"calculate": "datum.r*sin(datum.a*PI/180)", "as": "x"}, {"calculate": "datum.r*cos(datum.a*PI/180)", "as": "y"}],
   "mark": {"type": "line", "strokeJoin": "round"},
   "encoding": {
    "color": {"field": "s", "type": "nominal", "scale": {"domain": ["sc","sx","mc","mx"], "range": ["#ff0000","#000000","#000000","#ff0000"]}, "legend": {"labelExpr": "datum.label=='sc'?'Sim. Co-Pol.':datum.label=='sx'?'Sim. X-Pol.':datum.label=='mc'?'Mea. Co-Pol.':'Mea. X-Pol.'"}},
    "strokeDash": {"field": "s", "type": "nominal", "scale": {"domain": ["sc","sx","mc","mx"], "range": [[2,2],[4,3],[1,0],[1,0]]}, "legend": {"labelExpr": "datum.label=='sc'?'Sim. Co-Pol.':datum.label=='sx'?'Sim. X-Pol.':datum.label=='mc'?'Mea. Co-Pol.':'Mea. X-Pol.'"}},
    "strokeWidth": {"field": "s", "type": "nominal", "scale": {"domain": ["sc","sx","mc","mx"], "range": [1,1.6,2.6,2.6]}, "legend": {"labelExpr": "datum.label=='sc'?'Sim. Co-Pol.':datum.label=='sx'?'Sim. X-Pol.':datum.label=='mc'?'Mea. Co-Pol.':'Mea. X-Pol.'"}},
    "order": {"field": "a", "type": "quantitative"}}},
  {"transform": [{"filter": "datum.a % 10 == 0"}, {"calculate": "sin(datum.a*PI/180)", "as": "x"}, {"calculate": "cos(datum.a*PI/180)", "as": "y"}],
   "mark": {"type": "line", "color": "#000", "strokeWidth": 1.4}, "encoding": {"order": {"field": "a", "type": "quantitative"}}},
  {"transform": [{"filter": "datum.a % 30 == 0 && datum.a < 360"}, {"calculate": "1.13*sin(datum.a*PI/180)", "as": "x"}, {"calculate": "1.12*cos(datum.a*PI/180)", "as": "y"}],
   "mark": {"type": "text", "font": "Liberation Sans", "fontSize": 8.5, "color": "#333", "baseline": "middle", "align": "center"}, "encoding": {"text": {"field": "a", "type": "quantitative", "format": "d"}}},
  {"transform": [{"filter": "datum.a == 0"}, {"calculate": "0", "as": "x"}, {"calculate": "1.32", "as": "y"}],
   "mark": {"type": "text", "font": "Liberation Serif", "fontSize": 12.5, "color": "#000", "baseline": "middle", "align": "center"}, "encoding": {"text": {"value": "Theta (deg)"}}},
  {"transform": [{"filter": "datum.a == 0"}, {"calculate": "datum.f + ' GHz'", "as": "lab"}, {"calculate": "0", "as": "x"}, {"calculate": "-1.5", "as": "y"}],
   "mark": {"type": "text", "font": "Liberation Serif", "fontSize": 15, "color": "#000", "baseline": "middle", "align": "center"}, "encoding": {"text": {"field": "lab"}}}
 ]},
{"data": {"name": "theta"}, "transform": [{"filter": "datum.f == '30'"}], "width": 148, "height": 114,
 "encoding": {
  "x": {"field": "x", "type": "quantitative", "scale": {"domain": [-1.193, 1.404], "nice": false, "zero": false}, "axis": null},
  "y": {"field": "y", "type": "quantitative", "scale": {"domain": [-1, 1], "nice": false, "zero": false},
   "axis": {"title": null, "grid": false, "values": [1,0.875,0.75,0.625,0.5,0.375,0.25,0.125,0,-0.125,-0.25,-0.375,-0.5,-0.625,-0.75,-0.875,-1],
    "labelExpr": "round(abs(datum.value)*40-30) % 10 == 0 ? round(abs(datum.value)*40-30) : ''",
    "labelOverlap": false, "labelFlush": false, "labelBound": false, "labelFont": "Liberation Sans", "labelFontSize": 7.5, "labelColor": "#333", "labelPadding": 1,
    "domainColor": "#666", "domainWidth": 1.6, "tickColor": "#666", "tickSize": 2.5, "tickWidth": 1}}},
 "layer": [
  {"transform": [{"filter": "datum.a % 10 == 0"}, {"calculate": "[0.11,0.25,0.5,0.75]", "as": "rr"}, {"flatten": ["rr"]}, {"calculate": "datum.rr*sin(datum.a*PI/180)", "as": "x"}, {"calculate": "datum.rr*cos(datum.a*PI/180)", "as": "y"}],
   "mark": {"type": "line", "color": "#999", "strokeWidth": 0.9}, "encoding": {"detail": {"field": "rr"}, "order": {"field": "a", "type": "quantitative"}}},
  {"transform": [{"filter": "datum.a % 30 == 0 && datum.a < 360"}, {"calculate": "sin(datum.a*PI/180)", "as": "ux"}, {"calculate": "cos(datum.a*PI/180)", "as": "uy"}, {"calculate": "0.11*datum.ux", "as": "x"}, {"calculate": "0.11*datum.uy", "as": "y"}],
   "mark": {"type": "rule", "color": "#999", "strokeWidth": 0.9}, "encoding": {"x2": {"field": "ux"}, "y2": {"field": "uy"}}},
  {"transform": [{"fold": ["sc","sx","mc","mx"], "as": ["s","v"]}, {"filter": "isValid(datum.v)"}, {"calculate": "max(0,(datum.v+30)/40)", "as": "r"}, {"calculate": "datum.r*sin(datum.a*PI/180)", "as": "x"}, {"calculate": "datum.r*cos(datum.a*PI/180)", "as": "y"}],
   "mark": {"type": "line", "strokeJoin": "round"},
   "encoding": {
    "color": {"field": "s", "type": "nominal", "scale": {"domain": ["sc","sx","mc","mx"], "range": ["#ff0000","#000000","#000000","#ff0000"]}, "legend": {"labelExpr": "datum.label=='sc'?'Sim. Co-Pol.':datum.label=='sx'?'Sim. X-Pol.':datum.label=='mc'?'Mea. Co-Pol.':'Mea. X-Pol.'"}},
    "strokeDash": {"field": "s", "type": "nominal", "scale": {"domain": ["sc","sx","mc","mx"], "range": [[2,2],[4,3],[1,0],[1,0]]}, "legend": {"labelExpr": "datum.label=='sc'?'Sim. Co-Pol.':datum.label=='sx'?'Sim. X-Pol.':datum.label=='mc'?'Mea. Co-Pol.':'Mea. X-Pol.'"}},
    "strokeWidth": {"field": "s", "type": "nominal", "scale": {"domain": ["sc","sx","mc","mx"], "range": [1,1.6,2.6,2.6]}, "legend": {"labelExpr": "datum.label=='sc'?'Sim. Co-Pol.':datum.label=='sx'?'Sim. X-Pol.':datum.label=='mc'?'Mea. Co-Pol.':'Mea. X-Pol.'"}},
    "order": {"field": "a", "type": "quantitative"}}},
  {"transform": [{"filter": "datum.a % 10 == 0"}, {"calculate": "sin(datum.a*PI/180)", "as": "x"}, {"calculate": "cos(datum.a*PI/180)", "as": "y"}],
   "mark": {"type": "line", "color": "#000", "strokeWidth": 1.4}, "encoding": {"order": {"field": "a", "type": "quantitative"}}},
  {"transform": [{"filter": "datum.a % 30 == 0 && datum.a < 360"}, {"calculate": "1.13*sin(datum.a*PI/180)", "as": "x"}, {"calculate": "1.12*cos(datum.a*PI/180)", "as": "y"}],
   "mark": {"type": "text", "font": "Liberation Sans", "fontSize": 8.5, "color": "#333", "baseline": "middle", "align": "center"}, "encoding": {"text": {"field": "a", "type": "quantitative", "format": "d"}}},
  {"transform": [{"filter": "datum.a == 0"}, {"calculate": "0", "as": "x"}, {"calculate": "1.32", "as": "y"}],
   "mark": {"type": "text", "font": "Liberation Serif", "fontSize": 12.5, "color": "#000", "baseline": "middle", "align": "center"}, "encoding": {"text": {"value": "Theta (deg)"}}},
  {"transform": [{"filter": "datum.a == 0"}, {"calculate": "datum.f + ' GHz'", "as": "lab"}, {"calculate": "0", "as": "x"}, {"calculate": "-1.5", "as": "y"}],
   "mark": {"type": "text", "font": "Liberation Serif", "fontSize": 15, "color": "#000", "baseline": "middle", "align": "center"}, "encoding": {"text": {"field": "lab"}}}
 ]}
]
}
